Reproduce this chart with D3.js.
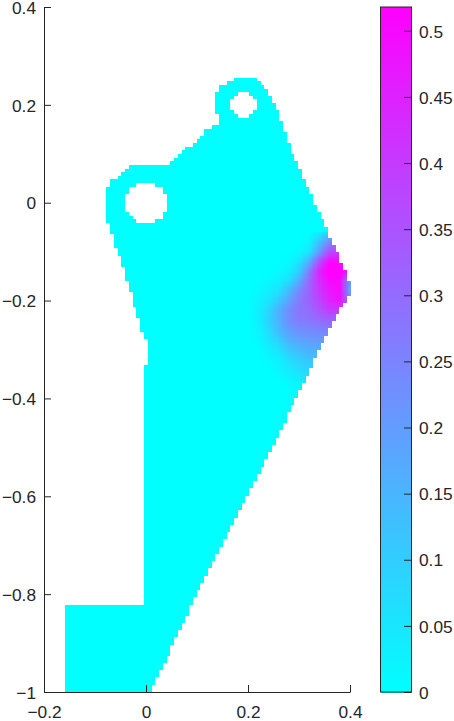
<!DOCTYPE html>
<html><head><meta charset="utf-8">
<style>html,body{margin:0;padding:0;background:#fff}svg{display:block}text{font-family:"Liberation Sans",Arial,sans-serif}</style>
<script src="https://cdn.jsdelivr.net/npm/d3@7"></script></head><body><div id="c"></div>
<script>
const xTicks=[-0.2,0,0.2,0.4];
const yTicks=[-1,-0.8,-0.6,-0.4,-0.2,0,0.2,0.4];
const cTicks=[0,0.05,0.1,0.15,0.2,0.25,0.3,0.35,0.4,0.45,0.5];
const outlineX=[.2160,.2220,.2333,.2392,.2471,.2549,.2627,.2686,.2784,.3451,.351,.3588,.3667,.3745,.3804,.3882,.3961,.4039,.4039,.3961,.3804,.3667,.3431,.3137,.1035,.0095,-.1588,-.1588,-.0039,-.0039,.0039,.0039,-.0039,-.0118,-.0176,-.0255,-.0333,-.0412,-.049,-.0569,-.0627,-.0706,-.0784,-.0784,-.0706,-.0569,-.0412,-.0255,.0471,.051,.0765,.1,.1216,.1431,.1431,.1373,.1373,.1431,.1620,.1775];
const outlineY=[.2549,.2467,.2406,.2263,.21,.1956,.1732,.1588,.1221,-.0353,-.0414,-.0639,-.0803,-.1007,-.1171,-.1314,-.1539,-.1682,-.1825,-.1947,-.2131,-.2458,-.2908,-.3623,-.7915,-1,-1,-.8221,-.8221,-.3316,-.3316,-.2785,-.2785,-.2499,-.2254,-.1988,-.1743,-.1375,-.1171,-.1007,-.0803,-.0496,-.0251,.0219,.0403,.0526,.0669,.0771,.0771,.0873,.1077,.1282,.1527,.1588,.1793,.1834,.2161,.2345,.2467,.2549];
const holeX=[.1912,0];
const holeY=[.1997,-.0006];
const holeR=[.0258,.042];
const heatX=[.20,.22,.24,.26,.28,.30,.32,.34,.36,.38,.40];
const heatY=[-.06,-.08,-.10,-.12,-.14,-.16,-.18,-.20,-.22,-.24,-.26,-.28,-.30,-.32,-.34,-.36,-.38,-.40];
const heatRows=[
[0,0,0,0,0,0,0,.03,.1,.1,.1],
[0,0,0,0,0,0,.02,.12,.24,.24,.2],
[0,0,0,0,0,.01,.05,.2,.36,.4,.3],
[0,0,0,0,.01,.05,.16,.36,.5,.5,.4],
[0,0,0,.01,.03,.1,.26,.45,.54,.54,.46],
[0,0,.01,.03,.07,.17,.31,.43,.5,.5,.2],
[0,.01,.03,.06,.14,.24,.32,.41,.47,.5,.18],
[0,.02,.05,.11,.19,.27,.32,.38,.45,.48,.3],
[0,.03,.08,.16,.23,.28,.3,.35,.4,.4,.3],
[0,.03,.09,.16,.23,.27,.28,.3,.32,.3,.3],
[0,.02,.07,.14,.2,.23,.24,.25,.26,.25,.25],
[0,.01,.05,.1,.16,.19,.2,.21,.2,.2,.2],
[0,0,.03,.06,.11,.14,.16,.16,.15,.15,.15],
[0,0,.01,.03,.07,.1,.12,.12,.12,.12,.12],
[0,0,0,.02,.04,.07,.09,.09,.09,.09,.09],
[0,0,0,0,.02,.04,.06,.06,.06,.06,.06],
[0,0,0,0,0,.01,.03,.03,.03,.03,.03],
[0,0,0,0,0,0,0,0,0,0,0]];
const cellW=.00737, cellH=.00743, gridX0=-.0039, gridY0=-1;

const W=454,H=721,ink="#262626",fs=17.3;
const x=d3.scaleLinear().domain([-0.2,0.4]).range([44,350]);
const y=d3.scaleLinear().domain([-1,0.4]).range([692,7]);
const cMax=0.518;
const c=d3.scaleLinear().domain([0,cMax]).range([692,7]);
const cool=d3.scaleLinear().domain([0,cMax]).range(["#00ffff","#ff00ff"]).clamp(true);
const svg=d3.select("#c").append("svg").attr("width",W).attr("height",H);
const fmt=v=>String(v).replace("-","\u2212");

const poly=outlineX.map((v,i)=>[v,outlineY[i]]);
const inHole=(a,b)=>holeX.some((h,i)=>Math.hypot(a-h,b-holeY[i])<holeR[i]);
const ix=d3.scaleLinear().domain(d3.extent(heatX)).range([0,heatX.length-1]);
const iy=d3.scaleLinear().domain([heatY[0],heatY[heatY.length-1]]).range([0,heatY.length-1]);
function val(a,b){
  const u=ix(a),v=iy(b);
  if(u<0||v<0||v>heatY.length-1) return 0;
  const uu=Math.min(u,heatX.length-1);
  const i=Math.min(Math.floor(uu),heatX.length-2),j=Math.min(Math.floor(v),heatY.length-2);
  const s=uu-i,t=v-j;
  return (heatRows[j][i]*(1-s)+heatRows[j][i+1]*s)*(1-t)+(heatRows[j+1][i]*(1-s)+heatRows[j+1][i+1]*s)*t;
}
const rects=[];
const sub=3;
for(let j=0;gridY0+j*cellH<0.3;j++){
  for(let i=-30;gridX0+i*cellW<0.42;i++){
    const a=gridX0+i*cellW,b=gridY0+j*cellH;
    const ca=a+cellW/2,cb=b+cellH/2;
    if(!d3.polygonContains(poly,[ca,cb])||inHole(ca,cb)) continue;
    const hot=ca>heatX[0]-cellW&&cb<heatY[0]+cellH&&cb>heatY[heatY.length-1]-cellH;
    const n=hot?sub:1;
    for(let p=0;p<n;p++)for(let q=0;q<n;q++){
      const a0=a+p*cellW/n,a1=a+(p+1)*cellW/n,b0=b+q*cellH/n,b1=b+(q+1)*cellH/n;
      rects.push({a0,a1,b0,b1,v:hot?val((a0+a1)/2,(b0+b1)/2):0});
    }
  }
}
svg.append("g").attr("shape-rendering","crispEdges").selectAll("rect").data(rects).join("rect")
  .attr("x",d=>x(d.a0)).attr("y",d=>y(d.b1))
  .attr("width",d=>x(d.a1)-x(d.a0)).attr("height",d=>y(d.b0)-y(d.b1))
  .attr("fill",d=>cool(d.v));

function style(g){
  g.selectAll("path,line").attr("stroke",ink).attr("stroke-width",1);
  g.selectAll("text").attr("fill",ink).attr("font-size",fs);
}
svg.append("g").attr("transform","translate(0,692)")
  .call(d3.axisBottom(x).tickValues(xTicks).tickFormat(fmt).tickSizeInner(-7).tickSizeOuter(0).tickPadding(14)).call(style);
svg.append("g").attr("transform","translate(44,0)")
  .call(d3.axisLeft(y).tickValues(yTicks).tickFormat(fmt).tickSizeInner(-7).tickSizeOuter(0).tickPadding(8)).call(style)
  .selectAll("text").attr("dy","0.36em");

const cx0=381,cx1=411;
const steps=d3.range(0,685).map(k=>k/685*cMax);
svg.append("g").attr("shape-rendering","crispEdges").selectAll("rect").data(steps).join("rect")
  .attr("x",cx0).attr("width",cx1-cx0).attr("y",d=>c(d)-1).attr("height",1.5).attr("fill",d=>cool(d));
svg.append("rect").attr("x",cx0-.5).attr("y",7).attr("width",cx1-cx0+1).attr("height",685).attr("fill","none").attr("stroke",ink);
svg.append("g").attr("transform",`translate(${cx1},0)`)
  .call(d3.axisRight(c).tickValues(cTicks).tickFormat(String).tickSizeInner(-7).tickSizeOuter(0).tickPadding(8)).call(style)
  .selectAll("text").attr("dy","0.36em");
</script></body></html>
